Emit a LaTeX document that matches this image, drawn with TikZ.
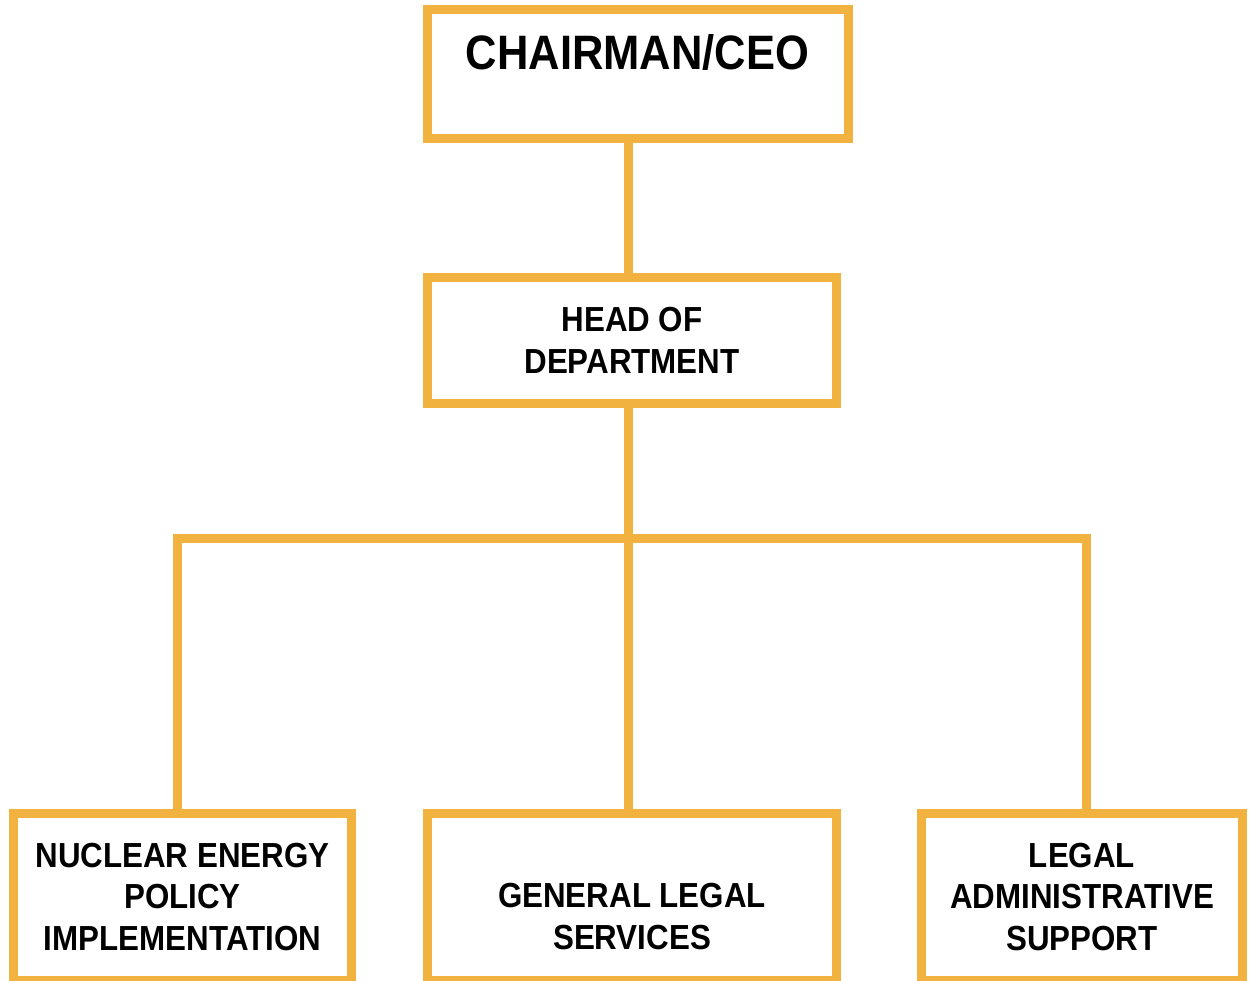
\documentclass[tikz,border=0pt]{standalone}
\usepackage{fontspec}
\setmainfont{Liberation Sans}[FakeStretch=0.9]
\usepackage{tikz}
\definecolor{boxorange}{RGB}{242,178,63}
\tikzset{
    unit/.style={rectangle,draw=boxorange,line width=9*0.02cm,fill=white,inner sep=0pt},
    title/.style={font=\bfseries\fontsize{19.8}{23.8}\selectfont,align=center},
    link/.style={draw=boxorange,line width=9*0.02cm}
}

\begin{document}
\begin{tikzpicture} [x=0.02cm,y=-0.02cm]
\useasboundingbox (0,0) rectangle (1250,980);

\node[unit,minimum width=421*0.02cm,minimum height=129*0.02cm] (chair) at (638,74) {};
\node[title,font=\bfseries\fontsize{27.5}{32}\selectfont] (chairtxt) at (637.5,52.5) {CHAIRMAN/CEO};

\node[unit,title,minimum width=409*0.02cm,minimum height=126*0.02cm] (head) at (632,340.5) {HEAD OF\\DEPARTMENT};

\node[unit,title,minimum width=338*0.02cm,minimum height=167*0.02cm] (nep) at (182.5,897) {NUCLEAR ENERGY\\POLICY\\IMPLEMENTATION};
\node[unit,minimum width=409*0.02cm,minimum height=167*0.02cm] (gls) at (632,897) {};
\node[title] (glstxt) at (632,916.5) {GENERAL LEGAL\\SERVICES};
\node[unit,title,minimum width=321*0.02cm,minimum height=167*0.02cm] (las) at (1082,897) {LEGAL\\ADMINISTRATIVE\\SUPPORT};

\coordinate (hub) at (628,538.5);
\coordinate (hubl) at (177.5,538.5);
\coordinate (hubr) at (1086,538.5);

\draw[link] (chair.south -| hub) -- (head.north -| hub);
\draw[link] (head.south -| hub) -- (gls.north -| hub);
\draw[link] (nep.north -| hubl) -- (hubl) -- (hubr) -- (las.north -| hubr);

\end{tikzpicture}
\end{document}
